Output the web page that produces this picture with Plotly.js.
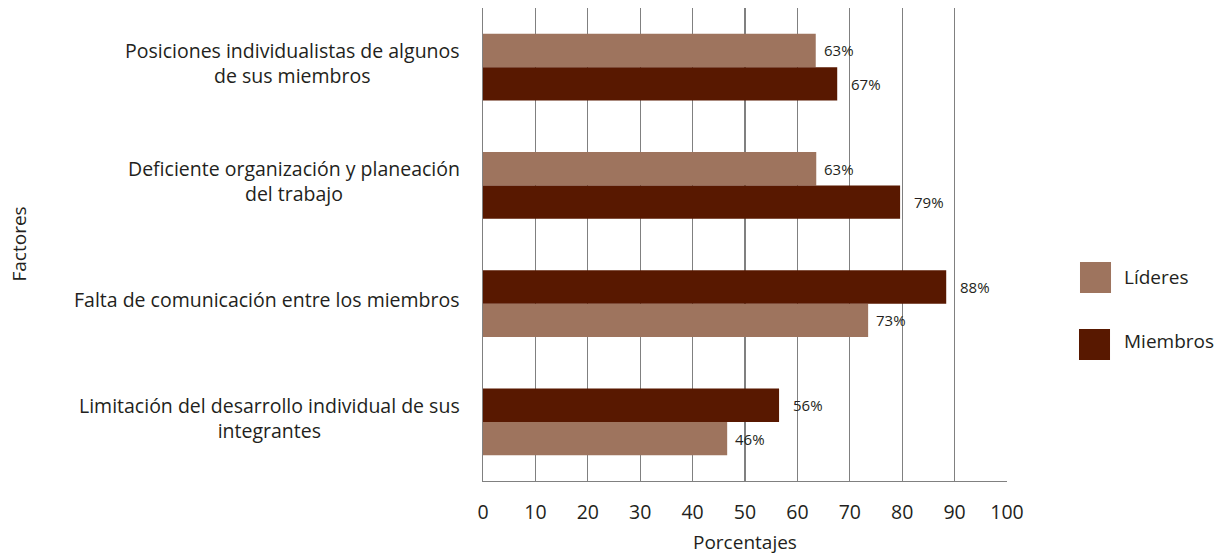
<!DOCTYPE html>
<html>
<head>
<meta charset="utf-8">
<script src="https://cdn.plot.ly/plotly-3.0.1.min.js"></script>
<style>html,body{margin:0;padding:0;background:#fff;}#chart{width:1220px;height:556px;}</style>
</head>
<body>
<div id="chart"></div>
<script>
// Categories, bottom to top
const categories = [
  "Limitación del desarrollo individual de sus<br>integrantes",
  "Falta de comunicación entre los miembros",
  "Deficiente organización y planeación<br>del trabajo",
  "Posiciones individualistas de algunos<br>de sus miembros"
];
const lideres = [46.6, 73.5, 63.6, 63.5];
const miembros = [56.5, 88.4, 79.6, 67.6];
const lideresLabels = ["46%", "73%", "63%", "63%"];
const miembrosLabels = ["56%", "88%", "79%", "67%"];
const xTicks = [0, 10, 20, 30, 40, 50, 60, 70, 80, 90, 100];

const colLid = "#9e745e";
const colMie = "#581800";
const W = 0.283;
// Líderes drawn below Miembros for the two lower factors, above for the two upper ones
const lidOffset = [-W, -W, 0, 0];
const mieOffset = [0, 0, -W, -W];
const idx = categories.map((c, i) => i);

const FF = "Open Sans, sans-serif";
const TC = "#231f20";

const traces = [
  {type: "bar", orientation: "h", name: "Líderes", x: lideres, y: idx,
   width: W, offset: lidOffset, marker: {color: colLid}, showlegend: false, hoverinfo: "x"},
  {type: "bar", orientation: "h", name: "Miembros", x: miembros, y: idx,
   width: W, offset: mieOffset, marker: {color: colMie}, showlegend: false, hoverinfo: "x"}
];

const annotations = [];
// category labels
categories.forEach((c, i) => {
  annotations.push({xref: "paper", yref: "y", x: 0, y: i, xanchor: "right", yanchor: "middle",
    xshift: -21, yshift: 4, align: "center", showarrow: false, text: c,
    font: {family: FF, size: 19.5, color: TC}});
});
// value labels
idx.forEach(i => {
  annotations.push({xref: "x", yref: "y", x: lideres[i], y: i + lidOffset[i] + W / 2,
    xanchor: "left", yanchor: "middle", xshift: 6, showarrow: false, text: lideresLabels[i],
    font: {family: FF, size: 15, color: TC}});
  annotations.push({xref: "x", yref: "y", x: miembros[i], y: i + mieOffset[i] + W / 2,
    xanchor: "left", yanchor: "middle", xshift: 12, showarrow: false, text: miembrosLabels[i],
    font: {family: FF, size: 15, color: TC}});
});
// axis titles
annotations.push({xref: "paper", yref: "paper", x: 0, y: 0.5, xshift: -465, xanchor: "center",
  yanchor: "middle", textangle: -90, showarrow: false, text: "Factores",
  font: {family: FF, size: 19, color: TC}});
annotations.push({xref: "paper", yref: "paper", x: 0.5, y: 0, yshift: -61, xanchor: "center",
  yanchor: "middle", showarrow: false, text: "Porcentajes",
  font: {family: FF, size: 19, color: TC}});
// legend labels
annotations.push({xref: "paper", yref: "paper", x: 1.2195, y: 0.4313, xanchor: "left", yanchor: "middle",
  showarrow: false, text: "Líderes", font: {family: FF, size: 19, color: TC}});
annotations.push({xref: "paper", yref: "paper", x: 1.2195, y: 0.296, xanchor: "left", yanchor: "middle",
  showarrow: false, text: "Miembros", font: {family: FF, size: 19, color: TC}});

const shapes = [
  {type: "rect", xref: "paper", yref: "paper", x0: 1.1393, x1: 1.1985, y0: 0.3975, y1: 0.463,
   fillcolor: colLid, line: {width: 0}},
  {type: "rect", xref: "paper", yref: "paper", x0: 1.1374, x1: 1.1966, y0: 0.2558, y1: 0.3214,
   fillcolor: colMie, line: {width: 0}}
];

const layout = {
  width: 1220, height: 556,
  margin: {l: 483, r: 213, t: 8, b: 75, pad: 0},
  paper_bgcolor: "#fff", plot_bgcolor: "#fff",
  barmode: "overlay",
  font: {family: FF, color: TC},
  xaxis: {
    range: [0, 100], tickvals: xTicks, ticktext: xTicks.map(String),
    showgrid: true, gridcolor: "#808080", gridwidth: 1.3,
    zeroline: false, showline: true, linecolor: "#808080", linewidth: 1.3,
    ticks: "", ticklabelstandoff: 13,
    tickfont: {family: FF, size: 19.5, color: TC},
    automargin: false, fixedrange: true
  },
  yaxis: {
    range: [-0.5, 3.5], showticklabels: false, showgrid: false, zeroline: false,
    showline: true, linecolor: "#808080", linewidth: 1.3, ticks: "",
    automargin: false, fixedrange: true
  },
  annotations: annotations,
  shapes: shapes,
  showlegend: false
};

Plotly.newPlot("chart", traces, layout, {displayModeBar: false, staticPlot: true});
</script>
</body>
</html>
